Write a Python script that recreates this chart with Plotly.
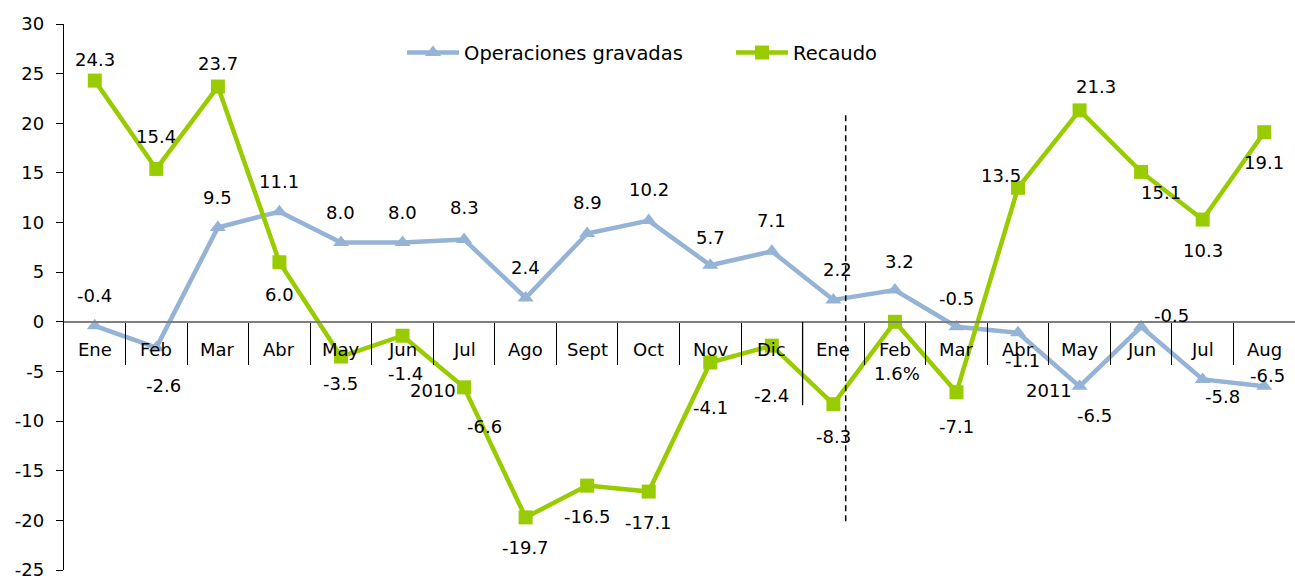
import plotly.graph_objects as go

# ---------------- data ----------------
months_2010 = ["Ene", "Feb", "Mar", "Abr", "May", "Jun", "Jul", "Ago", "Sept", "Oct", "Nov", "Dic"]
months_2011 = ["Ene", "Feb", "Mar", "Abr", "May", "Jun", "Jul", "Aug"]
years = ["2010", "2011"]

operaciones = [-0.4, -2.6, 9.5, 11.1, 8.0, 8.0, 8.3, 2.4, 8.9, 10.2, 5.7, 7.1,
               2.2, 3.2, -0.5, -1.1, -6.5, -0.5, -5.8, -6.5]
recaudo = [24.3, 15.4, 23.7, 6.0, -3.5, -1.4, -6.6, -19.7, -16.5, -17.1, -4.1, -2.4,
           -8.3, 0.0, -7.1, 13.5, 21.3, 15.1, 10.3, 19.1]
recaudo_label_override = {13: "1.6%"}

y_min, y_max, y_step = -25, 30, 5

# label offsets (dx right, dy down) in px relative to the point
ops_off = [(0, -30), (7, 38), (0, -30), (0, -30), (0, -30), (0, -30), (0, -32), (0, -30),
           (0, -31), (0, -31), (0, -28), (0, -31), (4, -30), (5, -29), (0, -28), (4, 28),
           (15, 29), (30, -11), (20, 17), (3, -11)]
rec_off = [(0, -21), (0, -32), (0, -23), (0, 32), (0, 27), (3, 38), (20, 39), (0, 30),
           (0, 31), (0, 31), (0, 45), (0, 50), (0, 32), (2, 52), (0, 34), (-17, -12),
           (16, -24), (20, 21), (0, 31), (0, 30)]

# ---------------- figure ----------------
months = months_2010 + months_2011
xs = list(range(len(months)))
FONT = "DejaVu Sans"
BLUE = "#95B3D7"
GREEN = "#99CC00"

fig = go.Figure()
fig.add_trace(go.Scatter(
    x=xs, y=operaciones, name="Operaciones gravadas", mode="lines+markers",
    line=dict(color=BLUE, width=4.5),
    marker=dict(symbol="triangle-up", size=14, color=BLUE),
))
fig.add_trace(go.Scatter(
    x=xs, y=recaudo, name="Recaudo", mode="lines+markers",
    line=dict(color=GREEN, width=4.5),
    marker=dict(symbol="square", size=14, color=GREEN),
))

# data labels
for i, v in enumerate(operaciones):
    dx, dy = ops_off[i]
    fig.add_annotation(x=i, y=v, text=f"{v:.1f}", showarrow=False,
                       xshift=dx, yshift=-dy, font=dict(family=FONT, size=18, color="black"))
for i, v in enumerate(recaudo):
    dx, dy = rec_off[i]
    txt = recaudo_label_override.get(i, f"{v:.1f}")
    fig.add_annotation(x=i, y=v, text=txt, showarrow=False,
                       xshift=dx, yshift=-dy, font=dict(family=FONT, size=18, color="black"))

# category labels along the zero line
for i, m in enumerate(months):
    fig.add_annotation(x=i, y=0, text=m, showarrow=False, yshift=-28,
                       font=dict(family=FONT, size=18, color="black"))
groups = [list(range(0, len(months_2010))), list(range(len(months_2010), len(months)))]
for yr, g in zip(years, groups):
    fig.add_annotation(x=sum(g) / len(g), y=0, text=yr, showarrow=False, yshift=-69,
                       font=dict(family=FONT, size=18, color="black"))

# year divider (long tick) and dashed separator
bx = len(months_2010) - 0.5
fig.add_shape(type="line", xref="x", yref="y", x0=bx, x1=bx, y0=0, y1=-8.4,
              line=dict(color="black", width=1.3))
fig.add_shape(type="line", xref="x", yref="y", x0=len(months_2010) + 0.2, x1=len(months_2010) + 0.2,
              y0=20.8, y1=-20.2, line=dict(color="black", width=1.5, dash="6px,4px"))

y_tickvals = list(range(y_min, y_max + 1, y_step))
zero_pos = (0 - y_min) / (y_max - y_min)
fig.update_layout(
    width=1295, height=580,
    margin=dict(l=64, r=0, t=24, b=6),
    plot_bgcolor="white", paper_bgcolor="white",
    font=dict(family=FONT, size=18, color="black"),
    showlegend=True,
    legend=dict(orientation="h", x=0.2746, y=0.947, xanchor="left", yanchor="middle",
                font=dict(family=FONT, size=19.5, color="black"),
                bgcolor="rgba(0,0,0,0)", itemwidth=52, entrywidth=262),
    xaxis=dict(
        range=[-0.5, len(months) - 0.5], anchor="free", position=zero_pos,
        showgrid=False, zeroline=False, showline=True, linecolor="#808080", linewidth=2,
        tickvals=[i + 0.5 for i in range(len(months) - 1)], ticks="outside", ticklen=42,
        tickcolor="black", tickwidth=1.3, showticklabels=False,
    ),
    yaxis=dict(
        range=[y_min, y_max], tickvals=y_tickvals, ticktext=[str(v) for v in y_tickvals],
        showgrid=False, zeroline=False, showline=True, linecolor="black", linewidth=1.3,
        ticks="outside", ticklen=7, tickcolor="black", tickwidth=1.3,
        tickfont=dict(family=FONT, size=18, color="black"), ticklabelstandoff=8,
        ticklabeloverflow="allow",
    ),
)

fig.write_html("out.html", config={"displayModeBar": False},
               post_script="document.body.style.margin='0';")
